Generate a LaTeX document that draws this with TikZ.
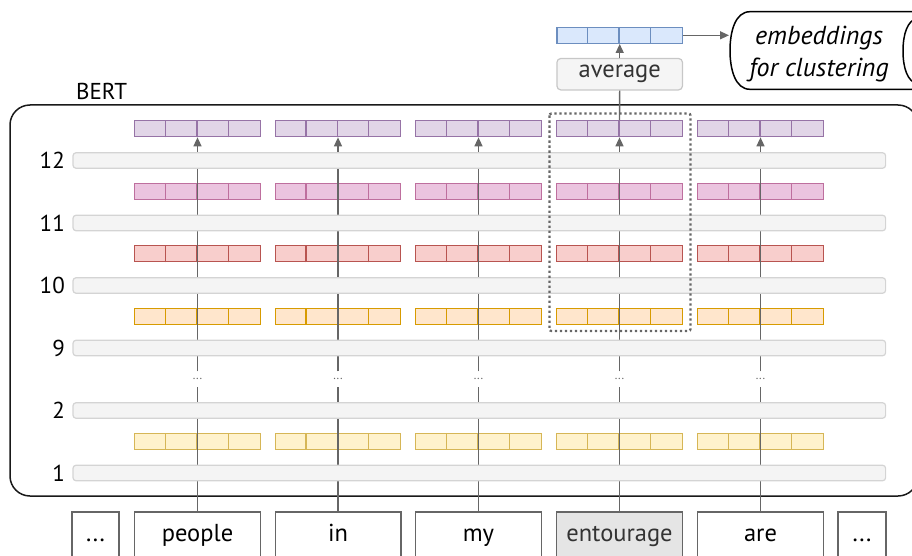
\documentclass[tikz,border=0pt]{standalone}
\usepackage{fontspec}
\setmainfont{PT Sans}
\usetikzlibrary{arrows.meta}
\definecolor{purpF}{HTML}{E1D5E7}\definecolor{purpD}{HTML}{9673A6}
\definecolor{pinkF}{HTML}{EBC4DF}\definecolor{pinkD}{HTML}{BE6F9E}
\definecolor{redF}{HTML}{F8CECC}\definecolor{redD}{HTML}{B85450}
\definecolor{oranF}{HTML}{FFE6CC}\definecolor{oranD}{HTML}{D79B00}
\definecolor{yellF}{HTML}{FFF2CC}\definecolor{yellD}{HTML}{D6B656}
\definecolor{bluF}{HTML}{DAE8FC}\definecolor{bluD}{HTML}{6C8EBF}
\definecolor{barF}{HTML}{F4F4F4}\definecolor{barD}{HTML}{D4D4D4}
\definecolor{lineG}{HTML}{666666}
\definecolor{txtG}{HTML}{333333}
\newcommand\mkvec[4]{%
  \node[vecbox,#4] (#1) at (#2,#3) {};
  \foreach \k in {1,2,3}{\draw[#4,line width=1.3pt] ([xshift=\k*31.4pt]#1.south west) -- ([xshift=\k*31.4pt]#1.north west);}
}
\begin{document}
\begin{tikzpicture}[x=1pt,y=-1pt,
  vecbox/.style={draw, minimum width=125.6pt, minimum height=16pt, inner sep=0pt, line width=1.3pt},
  vpurp/.style={fill=purpF, draw=purpD},
  vpink/.style={fill=pinkF, draw=pinkD},
  vred/.style={fill=redF, draw=redD},
  voran/.style={fill=oranF, draw=oranD},
  vyell/.style={fill=yellF, draw=yellD},
  vblue/.style={fill=bluF, draw=bluD},
  bar/.style={draw=barD, fill=barF, line width=1.2pt, rounded corners=3pt, minimum width=812.6pt, minimum height=15.5pt, inner sep=0pt},
  lnum/.style={anchor=east, font=\fontsize{23}{26}\selectfont, inner sep=0pt},
  tok/.style={draw=lineG, line width=1.4pt, minimum height=48pt, inner sep=0pt, font=\fontsize{24.5}{28}\selectfont, text height=2.2ex, text depth=0.1ex},
  conn/.style={draw=lineG, line width=1.4pt},
  arr/.style={conn, -{Triangle[length=9pt,width=8pt]}},
  vdots/.style={font=\fontsize{12}{14}\selectfont, text=lineG, minimum height=15pt, inner sep=0pt}
]
\useasboundingbox (0,0) rectangle (912,556);
\clip (0,0) rectangle (912,556);

% BERT box
\draw[line width=1.5pt, draw=black!90, rounded corners=20pt] (10,105) rectangle (918,496);
\node[anchor=west, font=\fontsize{23}{26}\selectfont, inner sep=0pt] (bert) at (76,91) {BERT};

% token boxes
\node[tok, minimum width=47pt] (t0) at (95.5,536) {...};
\node[tok, minimum width=125.6pt] (t1) at (197.5,536) {people};
\node[tok, minimum width=125.6pt] (t2) at (338,536) {in};
\node[tok, minimum width=125.6pt] (t3) at (478.5,536) {my};
\node[tok, minimum width=125.6pt, fill=black!10, text=txtG] (t4) at (619.5,536) {entourage};
\node[tok, minimum width=125.6pt] (t5) at (760.5,536) {are};
\node[tok, minimum width=48pt] (t6) at (862,536) {...};

% vectors
\foreach \c/\x in {1/197.5,2/338,3/478.5,4/619.5,5/760.5}{
  \mkvec{vp\c}{\x}{128.7}{vpurp}
  \mkvec{vk\c}{\x}{191.2}{vpink}
  \mkvec{vr\c}{\x}{253.7}{vred}
  \mkvec{vo\c}{\x}{316.2}{voran}
  \mkvec{vy\c}{\x}{441.2}{vyell}
  \node[vdots] (d\c) at (\x,379) {...};
  \draw[conn] (t\c.north) -- (d\c.south);
  \draw[arr] (d\c.north) -- (vp\c.south);
}

% layer bars
\foreach \n/\y in {12/160.5,11/223,10/285.5,9/348,2/410.5,1/473}{
  \node[bar] (b\n) at (479.3,\y) {};
  \node[lnum] (l\n) at (65,\y) {\n};
}

% dotted selection
\draw[draw=lineG, line width=2.3pt, dash pattern=on 2.3pt off 2.7pt, rounded corners=2pt] (549.5,113.5) rectangle (690.5,331);

% average and output vector
\node[draw=black!22, fill=black!4, line width=1.2pt, rounded corners=4pt, minimum width=125.6pt, minimum height=31.5pt, inner sep=0pt, text=txtG, font=\fontsize{24.5}{28}\selectfont] (avg) at (619.7,74.2) {average};
\mkvec{vb}{619.7}{35.3}{vblue}
\draw[conn] (vp4.north) -- (avg.south);
\draw[arr] (avg.north) -- (vb.south);

% embeddings node
\draw[line width=1.5pt] (925,11.7) -- (750,11.7) .. controls (735,11.7) and (730,32) .. (730,50.5) .. controls (730,69) and (735,89.3) .. (750,89.3) -- (925,89.3);
\draw[line width=1.5pt] (918,18) .. controls (907,20) and (903,35) .. (903,51) .. controls (903,67) and (907,82) .. (918,84);
\node[align=center, font=\fontsize{26}{32}\itshape, inner sep=0pt] (emb) at (819,54) {embeddings\\for clustering};
\coordinate (embl) at (729,35.3);
\draw[arr] (vb.east) -- (embl);
\end{tikzpicture}
\end{document}
